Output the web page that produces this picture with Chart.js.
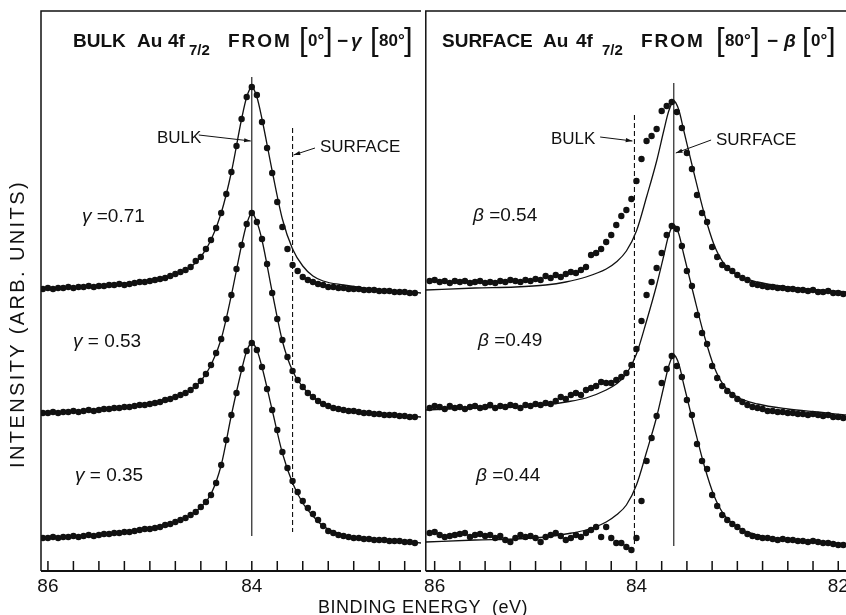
<!DOCTYPE html>
<html>
<head>
<meta charset="utf-8">
<script src="https://cdn.jsdelivr.net/npm/chart.js@4.4.1/dist/chart.umd.min.js"></script>
<style>
    html, body { margin: 0; padding: 0; overflow: hidden; background: #fff; }
    body { width: 846px; height: 615px; position: relative; font-family: "Liberation Sans", Arial, sans-serif; color: #111; }
    #leftBox { position: absolute; left: 0; top: 0; width: 425px; height: 615px; }
    #rightBox { position: absolute; left: 420px; top: 0; width: 450px; height: 615px; }
    .lbl { position: absolute; white-space: nowrap; line-height: 1; }
    .val { font-size: 19px; }
    .ann { font-size: 17px; }
    .t { position: absolute; top: 31px; white-space: nowrap; line-height: 1; font-size: 19px; font-weight: bold; }
    .t.br { top: 24px; font-size: 31px; font-weight: normal; }
    .t.num { top: 32px; font-size: 17px; }
    .t.sub { top: 42px; font-size: 15px; }
    .t.wide { letter-spacing: 2px; }
    #xTitle { position: absolute; left: 318px; top: 598px; font-size: 18px; line-height: 1; letter-spacing: 0.5px; white-space: nowrap; }
    #yTitle { position: absolute; left: -133px; top: 314px; width: 300px; height: 20px; font-size: 20px; line-height: 1; text-align: center; letter-spacing: 2.4px; transform: rotate(-90deg); white-space: nowrap; }
</style>
</head>
<body>

<div id="leftBox"><canvas id="bulkChart"></canvas></div>
<div id="rightBox"><canvas id="surfaceChart"></canvas></div>

<!-- panel titles -->
<span class="t" style="left:73px;">BULK</span>
<span class="t" style="left:137px;">Au</span>
<span class="t" style="left:168px;">4f</span>
<span class="t sub" style="left:189px;">7/2</span>
<span class="t wide" style="left:228px;">FROM</span>
<span class="t br" style="left:299px;">[</span>
<span class="t num" style="left:308px;">0°</span>
<span class="t br" style="left:324px;">]</span>
<span class="t" style="left:337px;">−</span>
<span class="t" style="left:351px;"><i>γ</i></span>
<span class="t br" style="left:370px;">[</span>
<span class="t num" style="left:379px;">80°</span>
<span class="t br" style="left:404px;">]</span>

<span class="t" style="left:442px;">SURFACE</span>
<span class="t" style="left:543px;">Au</span>
<span class="t" style="left:576px;">4f</span>
<span class="t sub" style="left:602px;">7/2</span>
<span class="t wide" style="left:641px;">FROM</span>
<span class="t br" style="left:716px;">[</span>
<span class="t num" style="left:725px;">80°</span>
<span class="t br" style="left:751px;">]</span>
<span class="t" style="left:767px;">−</span>
<span class="t" style="left:784px;"><i>β</i></span>
<span class="t br" style="left:802px;">[</span>
<span class="t num" style="left:811px;">0°</span>
<span class="t br" style="left:827px;">]</span>

<div class="lbl val" style="left:82px; top:206px;"><i>γ</i> =0.71</div>
<div class="lbl val" style="left:73px; top:331px;"><i>γ</i> = 0.53</div>
<div class="lbl val" style="left:75px; top:465px;"><i>γ</i> = 0.35</div>
<div class="lbl val" style="left:473px; top:205px;"><i>β</i> =0.54</div>
<div class="lbl val" style="left:478px; top:330px;"><i>β</i> =0.49</div>
<div class="lbl val" style="left:476px; top:465px;"><i>β</i> =0.44</div>

<div class="lbl ann" style="left:157px; top:129px;">BULK</div>
<div class="lbl ann" style="left:320px; top:138px;">SURFACE</div>
<div class="lbl ann" style="left:551px; top:130px;">BULK</div>
<div class="lbl ann" style="left:716px; top:131px;">SURFACE</div>

<div id="xTitle">BINDING ENERGY&nbsp; (eV)</div>
<div id="yTitle">INTENSITY (ARB. UNITS)</div>

<script>
/* Au 4f7/2 spectra, binding energy in eV, intensity in arbitrary units */

// measured energy grid (the bulk panel stops at 82.40)
let energies = [
    86.05, 86.00, 85.95, 85.90, 85.85, 85.80, 85.75, 85.70, 85.65, 85.60,
    85.55, 85.50, 85.45, 85.40, 85.35, 85.30, 85.25, 85.20, 85.15, 85.10,
    85.05, 85.00, 84.95, 84.90, 84.85, 84.80, 84.75, 84.70, 84.65, 84.60,
    84.55, 84.50, 84.45, 84.40, 84.35, 84.30, 84.25, 84.20, 84.15, 84.10,
    84.05, 84.00, 83.95, 83.90, 83.85, 83.80, 83.75, 83.70, 83.65, 83.60,
    83.55, 83.50, 83.45, 83.40, 83.35, 83.30, 83.25, 83.20, 83.15, 83.10,
    83.05, 83.00, 82.95, 82.90, 82.85, 82.80, 82.75, 82.70, 82.65, 82.60,
    82.55, 82.50, 82.45, 82.40, 82.35, 82.30, 82.25, 82.20, 82.15, 82.10,
    82.05, 82.00, 81.95
];

// bulk spectra: [0°] - gamma [80°]
let bulkTop = [
    282, 283, 282, 283, 283, 284, 283, 284, 284, 285,
    284, 285, 285, 286, 286, 287, 286, 287, 288, 289,
    289, 290, 291, 292, 293, 295, 297, 299, 301, 304,
    310, 314, 322, 331, 343, 358, 377, 399, 425, 452,
    474, 484, 476, 449, 423, 398, 369, 344, 322, 306,
    300, 294, 291, 289, 287, 286, 284, 284, 283, 283,
    282, 282, 282, 281, 281, 281, 280, 280, 280, 279,
    279, 279, 278, 278
];
let bulkMid = [
    158, 158, 159, 158, 159, 159, 160, 159, 160, 161,
    160, 161, 162, 162, 163, 163, 164, 164, 165, 166,
    166, 167, 168, 169, 171, 172, 174, 176, 178, 181,
    185, 190, 197, 206, 218, 232, 252, 276, 302, 326,
    347, 358, 349, 332, 307, 278, 252, 231, 214, 200,
    191, 184, 178, 174, 170, 167, 165, 163, 162, 161,
    160, 160, 159, 158, 158, 157, 157, 156, 156, 156,
    155, 155, 154, 154
];
let bulkLow = [
    33, 33, 34, 33, 34, 34, 35, 34, 35, 36,
    35, 36, 37, 37, 38, 38, 39, 39, 40, 41,
    42, 42, 43, 44, 46, 47, 49, 51, 53, 56,
    59, 64, 69, 76, 88, 106, 131, 156, 178, 202,
    220, 228, 221, 204, 182, 161, 141, 119, 103, 90,
    79, 70, 63, 57, 51, 45, 40, 38, 36, 35,
    34, 33, 33, 32, 32, 31, 31, 31, 30, 30,
    30, 29, 29, 28
];

// surface spectra: [80°] - beta [0°]
let surfTop = [
    290, 291, 289, 290, 288, 290, 289, 290, 288, 289,
    290, 288, 289, 288, 290, 289, 291, 290, 289, 291,
    290, 292, 291, 295, 293, 296, 294, 297, 299, 298,
    301, 304, 316, 318, 322, 329, 336, 346, 355, 361,
    372, 390, 412, 430, 435, 442, 460, 465, 469, 459,
    443, 418, 402, 376, 358, 349, 324, 314, 306, 303,
    300, 296, 293, 291, 287, 286, 285, 284, 284, 283,
    283, 282, 282, 281, 281, 280, 281, 279, 279, 280,
    278, 278, 277
];
let surfMid = [
    163, 165, 164, 162, 165, 163, 164, 162, 164, 165,
    163, 164, 166, 163, 165, 164, 166, 165, 163, 166,
    165, 167, 166, 168, 167, 170, 174, 172, 176, 178,
    176, 181, 183, 185, 189, 188, 188, 191, 194, 198,
    206, 222, 250, 276, 289, 303, 318, 336, 345, 342,
    325, 300, 285, 256, 238, 227, 205, 193, 185, 180,
    176, 172, 169, 166, 164, 163, 162, 160, 160, 159,
    159, 158, 158, 157, 157, 156, 157, 156, 155, 156,
    154, 154, 153
];
let surfLow = [
    38, 39, 36, 34, 35, 36, 37, 38, 34, 36,
    37, 35, 36, 33, 35, 31, 29, 33, 36, 34,
    35, 33, 29, 34, 36, 38, 35, 31, 33, 36,
    34, 38, 41, 44, 34, 44, 33, 28, 28, 24,
    21, 33, 70, 110, 133, 155, 188, 202, 215, 205,
    194, 171, 156, 127, 110, 102, 76, 65, 56, 51,
    47, 44, 40, 37, 35, 34, 33, 33, 32, 31,
    32, 31, 31, 30, 30, 29, 30, 29, 28, 28,
    27, 26, 26
];

// fitted curves
let bulkFitEnergies = [86.07, 85.6, 85.2, 85.0, 84.8, 84.7, 84.6, 84.5, 84.4, 84.3, 84.2, 84.1, 84.05, 84.0, 83.95, 83.9, 83.8, 83.7, 83.6, 83.5, 83.4, 83.3, 83.1, 82.9, 82.6, 82.34];
let bulkTopFit = [282, 285, 288, 290, 295, 299, 304, 314, 331, 358, 399, 452, 474, 484, 474, 452, 400, 352, 322, 305, 295, 290, 286, 283, 280, 278];
let bulkMidFit = [158, 160, 164, 167, 172, 176, 181, 190, 206, 232, 276, 326, 347, 358, 349, 331, 279, 230, 200, 184, 174, 167, 161, 158, 156, 154];
let bulkLowFit = [33, 36, 39, 42, 47, 51, 56, 64, 77, 106, 156, 201, 220, 228, 221, 204, 161, 118, 88, 68, 55, 45, 36, 33, 30, 28];

let surfFitEnergies = [86.09, 85.6, 85.2, 84.9, 84.7, 84.5, 84.3, 84.2, 84.1, 84.0, 83.9, 83.8, 83.73, 83.68, 83.63, 83.58, 83.53, 83.43, 83.33, 83.23, 83.13, 83.0, 82.8, 82.5, 82.2, 81.9, 81.72];
let surfTopFit = [281, 283, 284, 286, 289, 294, 302, 309, 320, 340, 374, 410, 440, 460, 470, 461, 440, 398, 358, 326, 307, 296, 289, 284, 281, 279, 278];
let surfMidFit = [161, 163, 164, 166, 169, 173, 181, 187, 197, 217, 250, 286, 315, 336, 346, 337, 316, 275, 236, 204, 185, 174, 167, 162, 159, 156, 155];
let surfLowFit = [29, 31, 32, 34, 37, 41, 49, 56, 66, 86, 119, 154, 184, 205, 216, 207, 186, 145, 106, 75, 56, 44, 36, 31, 29, 27, 26];

// peak positions (eV) and the span of the marker lines
let bulkPeak = 84.0;
let bulkPeakSpan = [494, 35];
let bulkSurfacePos = 83.6;
let bulkSurfaceSpan = [443, 39];
let surfBulkPos = 84.02;
let surfBulkSpan = [456, 25];
let surfPeak = 83.63;
let surfPeakSpan = [488, 25];

// arrows from the BULK / SURFACE labels: [fromE, fromI, toE, toI]
let bulkArrows = [[84.52, 436, 84.01, 430], [83.38, 423, 83.59, 416]];
let surfArrows = [[84.36, 434, 84.04, 430], [83.26, 431, 83.61, 418]];

let bulkTicks = [86, 85.75, 85.5, 85.25, 85, 84.75, 84.5, 84.25, 84, 83.75, 83.5, 83.25, 83, 82.75, 82.5];
let surfTicks = [86, 85.75, 85.5, 85.25, 85, 84.75, 84.5, 84.25, 84, 83.75, 83.5, 83.25, 83, 82.75, 82.5, 82.25, 82];
let tickLabels = [86, 84, 82];

let ink = '#111';


function dotsDataset(values) {
    let points = [];
    for (let i = 0; i < values.length; i++) {
        points.push({ x: energies[i], y: values[i] });
    }
    return {
        data: points,
        showLine: false,
        pointRadius: 3.2,
        pointBackgroundColor: ink,
        pointBorderWidth: 0
    };
}

function fitDataset(xs, ys) {
    let points = [];
    for (let i = 0; i < ys.length; i++) {
        points.push({ x: xs[i], y: ys[i] });
    }
    return {
        data: points,
        borderColor: ink,
        borderWidth: 1.3,
        pointRadius: 0,
        cubicInterpolationMode: 'monotone'
    };
}

function markerDataset(pos, span, dashed) {
    return {
        data: [{ x: pos, y: span[0] }, { x: pos, y: span[1] }],
        borderColor: ink,
        borderWidth: 1.1,
        borderDash: dashed ? [5, 3] : [],
        pointRadius: 0
    };
}

// frame, inward ticks and label arrows
let framePlugin = {
    id: 'frame',
    afterDatasetsDraw(chart, args, opts) {
        let ctx = chart.ctx;
        let area = chart.chartArea;
        let xs = chart.scales.x;
        let ys = chart.scales.y;
        ctx.save();
        ctx.strokeStyle = ink;
        ctx.fillStyle = ink;
        ctx.lineWidth = 1.5;
        ctx.beginPath();
        ctx.moveTo(area.left, area.bottom);
        ctx.lineTo(area.left, area.top);
        ctx.lineTo(area.right, area.top);
        ctx.stroke();
        ctx.lineWidth = 2;
        ctx.beginPath();
        ctx.moveTo(area.left, area.bottom);
        ctx.lineTo(area.right, area.bottom);
        ctx.stroke();
        ctx.lineWidth = 1.5;
        ctx.beginPath();
        for (let t of xs.ticks) {
            let px = xs.getPixelForValue(t.value);
            ctx.moveTo(px, area.bottom);
            ctx.lineTo(px, area.bottom - 10);
        }
        ctx.stroke();

        ctx.lineWidth = 1;
        for (let a of opts.arrows) {
            let x1 = xs.getPixelForValue(a[0]);
            let y1 = ys.getPixelForValue(a[1]);
            let x2 = xs.getPixelForValue(a[2]);
            let y2 = ys.getPixelForValue(a[3]);
            let ang = Math.atan2(y2 - y1, x2 - x1);
            ctx.beginPath();
            ctx.moveTo(x1, y1);
            ctx.lineTo(x2, y2);
            ctx.stroke();
            ctx.beginPath();
            ctx.moveTo(x2, y2);
            ctx.lineTo(x2 - 7 * Math.cos(ang - 0.3), y2 - 7 * Math.sin(ang - 0.3));
            ctx.lineTo(x2 - 7 * Math.cos(ang + 0.3), y2 - 7 * Math.sin(ang + 0.3));
            ctx.closePath();
            ctx.fill();
        }
        ctx.restore();
    }
};

function makeChart(canvasId, datasets, xMin, xMax, ticks, arrows, padLeft) {
    let config = {
        type: 'line',
        data: { datasets: datasets },
        options: {
            responsive: true,
            maintainAspectRatio: false,
            animation: false,
            events: [],
            layout: { padding: { left: padLeft, top: 11, right: 0, bottom: 0 } },
            plugins: {
                legend: { display: false },
                tooltip: { enabled: false },
                frame: { arrows: arrows }
            },
            scales: {
                x: {
                    type: 'linear',
                    reverse: true,
                    min: xMin,
                    max: xMax,
                    afterBuildTicks: function (scale) {
                        scale.ticks = ticks.map(v => ({ value: v }));
                    },
                    afterFit: function (scale) {
                        scale.height = 44;
                    },
                    grid: { display: false, drawTicks: false },
                    border: { display: false },
                    ticks: {
                        autoSkip: false,
                        maxRotation: 0,
                        padding: 4,
                        color: ink,
                        font: { family: '"Liberation Sans", Arial, sans-serif', size: 19 },
                        callback: function (value) {
                            return tickLabels.includes(value) ? String(value) : '';
                        }
                    }
                },
                y: { display: false, min: 0, max: 560 }
            }
        },
        plugins: [framePlugin]
    };
    return new Chart(document.getElementById(canvasId), config);
}

function loadBulkChart() {
    let datasets = [
        dotsDataset(bulkTop),
        dotsDataset(bulkMid),
        dotsDataset(bulkLow),
        fitDataset(bulkFitEnergies, bulkTopFit),
        fitDataset(bulkFitEnergies, bulkMidFit),
        fitDataset(bulkFitEnergies, bulkLowFit),
        markerDataset(bulkPeak, bulkPeakSpan, false),
        markerDataset(bulkSurfacePos, bulkSurfaceSpan, true)
    ];
    return makeChart('bulkChart', datasets, 82.34, 86.068, bulkTicks, bulkArrows, 41);
}

function loadSurfaceChart() {
    let datasets = [
        dotsDataset(surfTop),
        dotsDataset(surfMid),
        dotsDataset(surfLow),
        fitDataset(surfFitEnergies, surfTopFit),
        fitDataset(surfFitEnergies, surfMidFit),
        fitDataset(surfFitEnergies, surfLowFit),
        markerDataset(surfBulkPos, surfBulkSpan, true),
        markerDataset(surfPeak, surfPeakSpan, false)
    ];
    return makeChart('surfaceChart', datasets, 81.725, 86.088, surfTicks, surfArrows, 5);
}

loadBulkChart();
loadSurfaceChart();
</script>
</body>
</html>
